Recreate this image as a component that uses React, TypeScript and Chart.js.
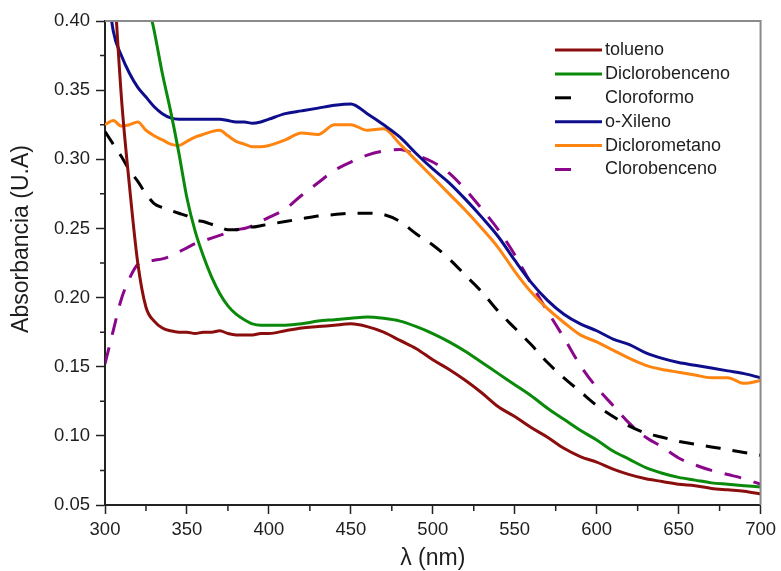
import { useEffect, useRef } from "react";
import { Chart, registerables } from "chart.js";

Chart.register(...registerables);

// Wavelength samples (nm)
const wavelengths = [
  300, 305, 310, 315, 320, 325, 330, 335, 340, 345, 350, 355, 360, 365, 370, 375, 380, 385, 390, 395, 400,
  410, 420, 430, 440, 450, 460, 470, 480, 490, 500, 510, 520, 530, 540, 550, 560, 570, 580, 590, 600,
  610, 620, 630, 640, 650, 660, 670, 680, 690, 700,
];

const tolueno = [
  0.55, 0.44, 0.345, 0.28, 0.225, 0.193, 0.183, 0.178, 0.176, 0.175, 0.175, 0.174, 0.175, 0.175, 0.176, 0.174, 0.173, 0.173, 0.173, 0.174, 0.174,
  0.176, 0.178, 0.179, 0.18, 0.181, 0.179, 0.175, 0.169, 0.163, 0.155, 0.148, 0.14, 0.131, 0.121, 0.114, 0.106, 0.099, 0.091, 0.085, 0.081,
  0.076, 0.072, 0.069, 0.067, 0.065, 0.064, 0.062, 0.061, 0.06, 0.058,
];

const diclorobenceno = [
  0.58, 0.55, 0.515, 0.48, 0.45, 0.42, 0.393, 0.362, 0.335, 0.305, 0.272, 0.248, 0.23, 0.215, 0.203, 0.194, 0.188, 0.184, 0.181, 0.18, 0.18,
  0.18, 0.181, 0.183, 0.184, 0.185, 0.186, 0.185, 0.183, 0.179, 0.174, 0.168, 0.161, 0.153, 0.145, 0.137, 0.129, 0.12, 0.112, 0.104, 0.097,
  0.089, 0.083, 0.077, 0.073, 0.07, 0.068, 0.066, 0.065, 0.064, 0.063,
];

const cloroformo = [
  0.32, 0.311, 0.302, 0.292, 0.284, 0.275, 0.268, 0.265, 0.263, 0.261, 0.259, 0.256, 0.255, 0.253, 0.251, 0.249, 0.249, 0.251, 0.251, 0.252, 0.253,
  0.255, 0.257, 0.259, 0.26, 0.261, 0.261, 0.26, 0.255, 0.246, 0.238, 0.228, 0.216, 0.204, 0.19, 0.178, 0.166, 0.153, 0.142, 0.132, 0.122,
  0.114, 0.107, 0.102, 0.099, 0.096, 0.094, 0.092, 0.09, 0.088, 0.086,
];

const oXileno = [
  0.44, 0.393, 0.375, 0.362, 0.352, 0.345, 0.338, 0.333, 0.33, 0.329, 0.329, 0.329, 0.329, 0.329, 0.329, 0.328, 0.327, 0.327, 0.326, 0.327, 0.329,
  0.333, 0.335, 0.337, 0.339, 0.34, 0.333, 0.325, 0.316, 0.304, 0.293, 0.283, 0.271, 0.258, 0.244, 0.227, 0.211, 0.198, 0.188, 0.181, 0.176,
  0.17, 0.166, 0.16, 0.156, 0.153, 0.151, 0.149, 0.147, 0.145, 0.142,
];

const diclorometano = [
  0.325, 0.328, 0.324, 0.325, 0.327, 0.321, 0.317, 0.314, 0.311, 0.31, 0.313, 0.316, 0.318, 0.32, 0.321, 0.317, 0.313, 0.311, 0.309, 0.309, 0.31,
  0.314, 0.319, 0.318, 0.325, 0.325, 0.321, 0.322, 0.311, 0.299, 0.287, 0.275, 0.263, 0.25, 0.236, 0.219, 0.204, 0.192, 0.182, 0.173, 0.168,
  0.162, 0.156, 0.151, 0.148, 0.146, 0.144, 0.142, 0.142, 0.138, 0.14,
];

const clorobenceno = [
  0.152, 0.176, 0.199, 0.214, 0.224, 0.226, 0.227, 0.228, 0.23, 0.233, 0.236, 0.239, 0.241, 0.243, 0.245, 0.247, 0.249, 0.25, 0.252, 0.255, 0.258,
  0.264, 0.274, 0.283, 0.292, 0.298, 0.303, 0.306, 0.307, 0.303, 0.298, 0.29, 0.278, 0.264, 0.249, 0.231, 0.21, 0.19, 0.171, 0.151, 0.135,
  0.122, 0.109, 0.099, 0.092, 0.084, 0.079, 0.075, 0.072, 0.069, 0.065,
];

const seriesNames = ["tolueno", "Diclorobenceno", "Cloroformo", "o-Xileno", "Diclorometano", "Clorobenceno"];
const seriesValues = [tolueno, diclorobenceno, cloroformo, oXileno, diclorometano, clorobenceno];
const seriesColors = ["#8B0E0E", "#0A890A", "#000000", "#0E0E8C", "#FF8410", "#8A068A"];
const seriesDashes: number[][] = [[], [], [15, 12], [], [], [17, 13]];

const xMinorTicks = [325, 375, 425, 475, 525, 575, 625, 675];
const yMinorTicks = [0.075, 0.125, 0.175, 0.225, 0.275, 0.325, 0.375];

const xTitle = "λ (nm)";
const yTitle = "Absorbancia (U.A)";

const FONT = '"Liberation Sans", Arial, sans-serif';
const TEXT = "#1e1e1e";

const decorPlugin = {
  id: "decor",
  afterDraw(chart: any) {
    const ctx = chart.ctx as CanvasRenderingContext2D;
    const { left, right, top, bottom } = chart.chartArea;
    const xs = chart.scales.x;
    const ys = chart.scales.y;
    ctx.save();
    // top and right frame
    ctx.strokeStyle = "#8a8a8a";
    ctx.lineWidth = 2;
    ctx.beginPath();
    ctx.moveTo(left, top);
    ctx.lineTo(right, top);
    ctx.lineTo(right, bottom);
    ctx.stroke();
    // minor ticks
    ctx.strokeStyle = "#222";
    ctx.lineWidth = 1.5;
    ctx.beginPath();
    yMinorTicks.forEach((v) => {
      const p = ys.getPixelForValue(v);
      ctx.moveTo(left - 5, p);
      ctx.lineTo(left, p);
    });
    xMinorTicks.forEach((v) => {
      const p = xs.getPixelForValue(v);
      ctx.moveTo(p, bottom);
      ctx.lineTo(p, bottom + 6);
    });
    ctx.stroke();
    // axis titles
    ctx.fillStyle = TEXT;
    ctx.font = `23px ${FONT}`;
    ctx.textAlign = "center";
    ctx.textBaseline = "middle";
    ctx.fillText(xTitle, (left + right) / 2, 559);
    ctx.save();
    ctx.translate(21.5, 239);
    ctx.rotate(-Math.PI / 2);
    ctx.fillText(yTitle, 0, 0);
    ctx.restore();
    // legend
    ctx.font = `18px ${FONT}`;
    ctx.textAlign = "left";
    chart.data.datasets.forEach((ds: any, i: number) => {
      const y = 50 + i * 23.9;
      ctx.strokeStyle = ds.borderColor;
      ctx.lineWidth = ds.borderWidth;
      ctx.setLineDash([]);
      const dashed = ds.borderDash && ds.borderDash.length > 0;
      ctx.beginPath();
      ctx.moveTo(555, y);
      ctx.lineTo(dashed ? 571 : 602, y);
      ctx.stroke();
      ctx.fillStyle = TEXT;
      ctx.fillText(ds.label, 605, y);
    });
    ctx.restore();
  },
};

export default function App() {
  const ref = useRef<HTMLCanvasElement | null>(null);

  useEffect(() => {
    document.body.style.margin = "0";
    const canvas = ref.current;
    if (!canvas) return;
    const datasets = seriesNames.map((name, i) => ({
      label: name,
      data: wavelengths.map((w, j) => ({ x: w, y: seriesValues[i][j] })),
      borderColor: seriesColors[i],
      backgroundColor: seriesColors[i],
      borderWidth: 3,
      borderDash: seriesDashes[i],
      pointRadius: 0,
      cubicInterpolationMode: "monotone" as const,
      fill: false,
      clip: 0,
    }));
    const chart = new Chart(canvas, {
      type: "line",
      data: { datasets },
      options: {
        responsive: false,
        animation: false,
        layout: { padding: { left: 0, top: 21, right: 18, bottom: 0 } },
        plugins: { legend: { display: false }, tooltip: { enabled: false }, title: { display: false } },
        scales: {
          x: {
            type: "linear",
            min: 300,
            max: 700,
            afterFit: (s: any) => {
              s.height = 66;
            },
            ticks: {
              stepSize: 50,
              autoSkip: false,
              maxRotation: 0,
              padding: 5,
              color: TEXT,
              font: { family: FONT, size: 18.5 },
            },
            grid: {
              drawOnChartArea: false,
              drawTicks: true,
              tickLength: 9,
              tickColor: "#222",
              tickWidth: 1.5,
            },
            border: { color: "#222", width: 2 },
          },
          y: {
            type: "linear",
            min: 0.05,
            max: 0.4,
            afterFit: (s: any) => {
              s.width = 105;
            },
            ticks: {
              stepSize: 0.05,
              padding: 6,
              color: TEXT,
              font: { family: FONT, size: 18.5 },
              callback: (v: any) => Number(v).toFixed(2),
            },
            grid: {
              drawOnChartArea: false,
              drawTicks: true,
              tickLength: 9,
              tickColor: "#222",
              tickWidth: 1.5,
            },
            border: { color: "#222", width: 2 },
          },
        },
      },
      plugins: [decorPlugin],
    });
    return () => chart.destroy();
  }, []);

  return (
    <div style={{ position: "absolute", left: 0, top: 0, width: 781, height: 571 }}>
      <canvas ref={ref} width={781} height={571} />
    </div>
  );
}
